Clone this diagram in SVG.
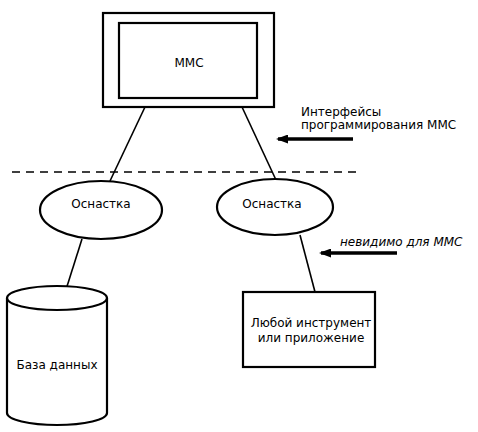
<svg xmlns="http://www.w3.org/2000/svg" width="478" height="432" viewBox="0 0 478 432">
<defs>
<style>
.s{fill:none;stroke:#000;stroke-width:1.6}
.b{fill:#fff;stroke:#000;stroke-width:2.2}
.t{font-family:"DejaVu Sans","Liberation Sans",Arial,sans-serif;font-size:12px;fill:#000}
.m{text-anchor:middle}
.ar{stroke:#000;stroke-width:3.5;fill:none}
</style>
<marker id="ah" markerWidth="12" markerHeight="9" refX="10" refY="4.5" orient="auto" markerUnits="userSpaceOnUse"><path d="M0,0 L12,4.5 L0,9 Z" fill="#000"/></marker>
</defs>
<rect width="478" height="432" fill="#fff"/>
<g id="connectors">
<line class="s" x1="145" y1="107" x2="110" y2="181"/>
<line class="s" x1="242" y1="107" x2="276" y2="180"/>
<line x1="12" y1="172" x2="360" y2="172" stroke="#000" stroke-width="1.6" stroke-dasharray="8,6"/>
<line class="s" x1="82" y1="239" x2="63" y2="299"/>
<line class="s" x1="300" y1="235" x2="315" y2="292"/>
<line class="ar" x1="353" y1="139" x2="278" y2="139" marker-end="url(#ah)"/>
<line class="ar" x1="397" y1="253" x2="321" y2="253" marker-end="url(#ah)"/>
</g>
<g id="mmc">
<rect class="b" x="103" y="13" width="171" height="94" stroke-width="3"/>
<rect class="b" x="119" y="23" width="138" height="75"/>
<text class="t m" x="189" y="67">ММС</text>
</g>
<g id="osnastka1">
<ellipse class="b" cx="101" cy="210" rx="61" ry="29" stroke-width="1.8"/>
<text class="t m" x="101" y="208">Оснастка</text>
</g>
<g id="osnastka2">
<ellipse class="b" cx="275" cy="207" rx="58" ry="28" stroke-width="1.8"/>
<text class="t m" x="272" y="208">Оснастка</text>
</g>
<g id="db">
<path class="b" stroke-width="1.8" d="M7,298 L7,413 A50,12 0 0 0 107,413 L107,298"/>
<ellipse class="b" cx="57" cy="298" rx="50" ry="12" stroke-width="1.8"/>
<text class="t m" x="57" y="369">База данных</text>
</g>
<g id="tool">
<rect class="b" x="243" y="292" width="132" height="75"/>
<text class="t m" x="311" y="327">Любой инструмент</text>
<text class="t m" x="311" y="342">или приложение</text>
</g>
<g id="labels">
<text class="t" x="301" y="116">Интерфейсы</text>
<text class="t" x="301" y="129">программирования ММС</text>
<text class="t" x="340" y="246" font-style="italic">невидимо для ММС</text>
</g>
</svg>
